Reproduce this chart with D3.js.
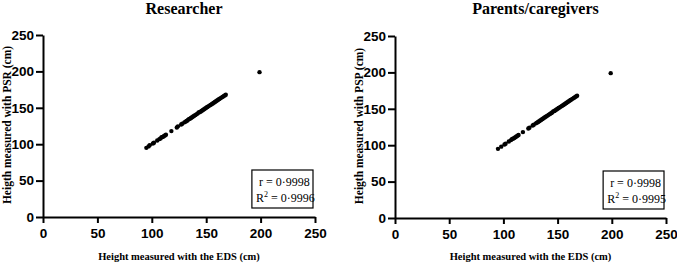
<!DOCTYPE html>
<html>
<head>
<meta charset="utf-8">
<script src="https://cdnjs.cloudflare.com/ajax/libs/d3/7.8.5/d3.min.js"></script>
<style>
  body { margin: 0; background: #fff; }
  .tick text { font-family: "Liberation Sans", Arial, sans-serif; font-weight: bold; font-size: 13.5px; fill: #000; }
  .serif { font-family: "Liberation Serif", "Times New Roman", serif; font-weight: bold; fill: #000; }
</style>
</head>
<body>
<div id="grafica"></div>
<script>
// datos
var edsResearcher = [95, 97, 98, 101, 102, 105, 107, 108, 109, 110, 111, 112, 113, 118, 123, 124, 127, 128, 130, 131, 132, 133, 134, 135, 136, 137, 138, 139, 140, 141, 142, 143, 144, 145, 146, 147, 148, 149, 150, 151, 152, 153, 154, 155, 156, 157, 158, 159, 160, 161, 162, 163, 164, 165, 166, 167, 168, 199];
var psr = [95, 97, 98.5, 101, 102, 105, 107, 108, 109.5, 110, 111, 112, 113, 118, 123, 124.5, 127, 128, 130, 131, 132, 133, 134.5, 135, 136, 137, 138, 139, 140, 141, 142, 143.5, 144, 145, 146, 147, 148, 149, 150, 151, 152, 153, 154, 155, 156, 157, 158, 159, 160, 161, 162, 163, 164, 165, 166, 167, 168, 199];
var edsParents = [95, 98, 101, 102, 105, 107, 108, 109, 110, 111, 112, 113, 114, 118, 123, 124, 127, 128, 130, 131, 132, 133, 134, 135, 136, 137, 138, 139, 140, 141, 142, 143, 144, 145, 146, 147, 148, 149, 150, 151, 152, 153, 154, 155, 156, 157, 158, 159, 160, 161, 162, 163, 164, 165, 166, 167, 168, 199];
var psp = [95, 98, 101, 102, 105, 107, 108.5, 109, 110, 111, 112, 113, 114, 118, 123, 124, 127, 128, 130, 131, 132, 133, 134, 135, 136, 137, 138, 139, 140, 141, 142, 143, 144, 145, 146.5, 147, 148, 149, 150, 151, 152, 153, 154, 155, 156, 157, 158, 159, 160, 161, 162, 163, 164, 165, 166, 167, 168, 199];
var ticks = [0, 50, 100, 150, 200, 250];
var titulos = ["Researcher", "Parents/caregivers"];
var ejeY = ["Heigth measured with PSR (cm)", "Heigth measured with PSP (cm)"];
var ejeX = "Height measured with the EDS (cm)";
var valoresR = ["0·9998", "0·9998"];
var valoresR2 = ["0·9996", "0·9995"];

var w = 677, h = 263;
var svg = d3.select('#grafica').append('svg').attr("width", w).attr("height", h);

var paneles = [
  { x0: 43, x1: 315, y0: 217, y1: 35, xs: edsResearcher, ys: psr },
  { x0: 395, x1: 666, y0: 218, y1: 36, xs: edsParents, ys: psp }
];

paneles.forEach(function (p, k) {
  var x = d3.scaleLinear().domain([0, 250]).range([p.x0, p.x1]);
  var y = d3.scaleLinear().domain([0, 250]).range([p.y0, p.y1]);
  var g = svg.append("g");

  var axX = g.append("g").attr("transform", "translate(0," + p.y0 + ")")
    .call(d3.axisBottom(x).tickValues(ticks).tickSize(6).tickPadding(4).tickSizeOuter(0));
  var axY = g.append("g").attr("transform", "translate(" + p.x0 + ",0)")
    .call(d3.axisLeft(y).tickValues(ticks).tickSize(7).tickPadding(2).tickSizeOuter(0));
  [axX, axY].forEach(function (a) {
    a.select(".domain").attr("stroke", "#000").attr("stroke-width", 2);
    a.selectAll(".tick line").attr("stroke", "#000").attr("stroke-width", 2);
  });
  axX.selectAll(".tick text").attr("dy", "0.85em");

  g.selectAll("circle")
    .data(p.xs)
    .enter()
    .append("circle")
    .attr("cx", function (d) { return x(d); })
    .attr("cy", function (d, i) { return y(p.ys[i]); })
    .attr("r", 2.2)
    .attr("fill", "#000");

  var cx = (p.x0 + p.x1) / 2;
  g.append("text").attr("class", "serif")
    .attr("x", cx + 5).attr("y", 14)
    .attr("text-anchor", "middle").style("font-size", "16px")
    .text(titulos[k]);

  g.append("text").attr("class", "serif")
    .attr("x", cx).attr("y", 260)
    .attr("text-anchor", "middle").style("font-size", "10.5px")
    .text(ejeX);

  g.append("text").attr("class", "serif")
    .attr("transform", "translate(" + (p.x0 - 32) + "," + ((p.y0 + p.y1) / 2 - 1) + ") rotate(-90)")
    .attr("text-anchor", "middle").style("font-size", "11.5px")
    .text(ejeY[k]);

  // cuadro de correlacion
  var bx = x(192), by = p.y0 - 47;
  g.append("rect")
    .attr("x", bx).attr("y", by)
    .attr("width", p.x1 - 2 - bx).attr("height", 38)
    .attr("fill", "#fff").attr("stroke", "#000").attr("stroke-width", 1.2);
  var t1 = g.append("text").attr("class", "serif")
    .attr("x", bx + 7).attr("y", by + 16)
    .style("font-size", "12px").style("font-weight", "normal");
  t1.text("r  = " + valoresR[k]);
  var t2 = g.append("text").attr("class", "serif")
    .attr("x", bx + 4).attr("y", by + 32)
    .style("font-size", "12px").style("font-weight", "normal");
  t2.append("tspan").text("R");
  t2.append("tspan").attr("dy", -5).style("font-size", "8px").text("2");
  t2.append("tspan").attr("dy", 5).text(" = " + valoresR2[k]);
});
</script>
</body>
</html>
